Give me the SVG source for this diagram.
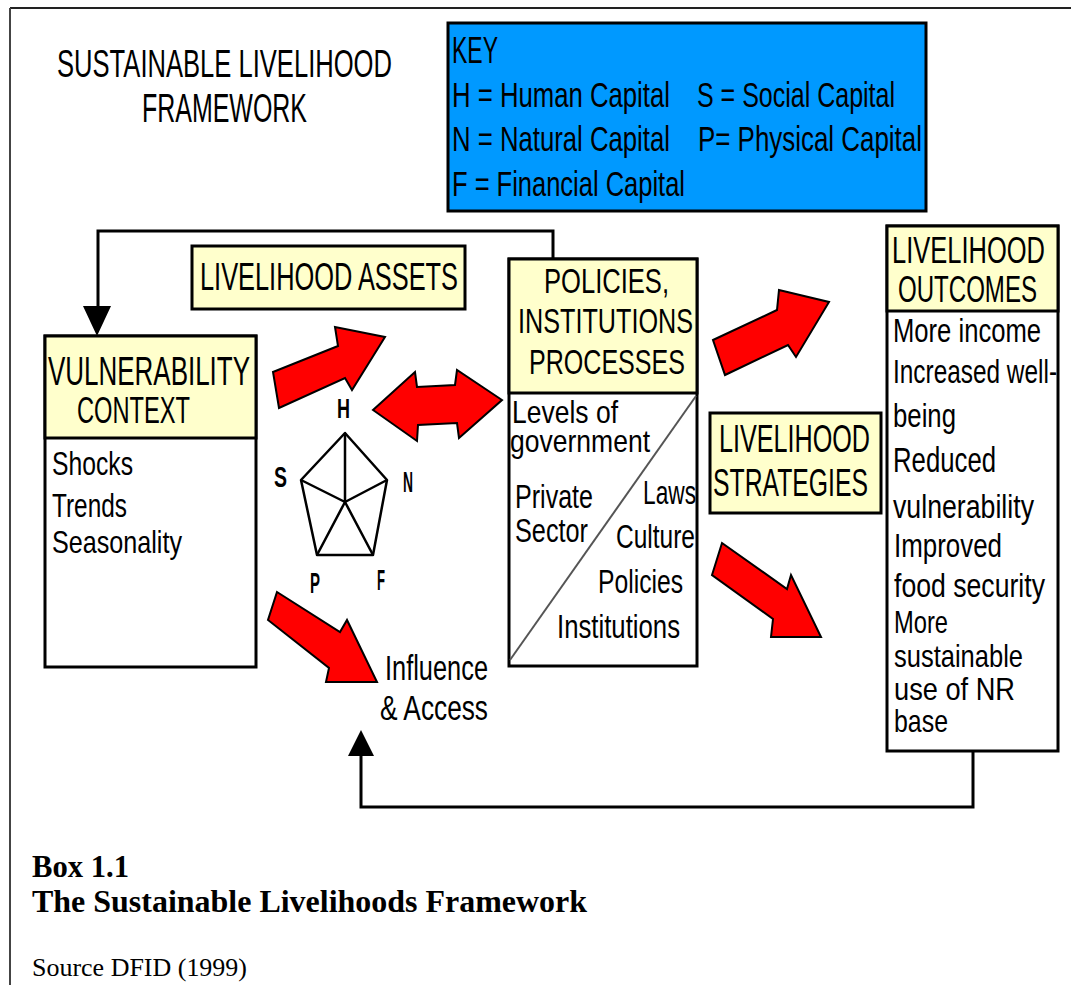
<svg xmlns="http://www.w3.org/2000/svg" width="1071" height="985" viewBox="0 0 1071 985">
<style>
.s{font-family:"Liberation Sans",Arial,sans-serif;fill:#000}
.c{font-family:"Liberation Serif","Times New Roman",serif;fill:#000}
.box{stroke:#000;stroke-width:3}
.hdr{fill:#FFFFCC}
.body{fill:#FFFFFF}
.red{fill:#FF0000;stroke:#000;stroke-width:2;stroke-linejoin:miter}
.ln{fill:none;stroke:#000;stroke-width:3}
.lbl{font-weight:bold}
</style>
<rect x="0" y="0" width="1071" height="985" fill="#FFFFFF"/>
<g id="frame">
<line x1="10" y1="8" x2="1071" y2="8" stroke="#222" stroke-width="2"/>
<line x1="10" y1="8" x2="10" y2="985" stroke="#444" stroke-width="2"/>
</g>
<g id="title">
<text class="s" x="57" y="77" font-size="38" textLength="335" lengthAdjust="spacingAndGlyphs">SUSTAINABLE LIVELIHOOD</text>
<text class="s" x="142" y="122" font-size="40" textLength="165" lengthAdjust="spacingAndGlyphs">FRAMEWORK</text>
</g>
<g id="key">
<rect x="448" y="23" width="478" height="188" fill="#0099FF" class="box"/>
<text class="s" x="452" y="63" font-size="37" textLength="46" lengthAdjust="spacingAndGlyphs">KEY</text>
<text class="s" x="452" y="107" font-size="35" textLength="218" lengthAdjust="spacingAndGlyphs">H = Human Capital</text>
<text class="s" x="697" y="107" font-size="35" textLength="198" lengthAdjust="spacingAndGlyphs">S = Social Capital</text>
<text class="s" x="452" y="151" font-size="35" textLength="218" lengthAdjust="spacingAndGlyphs">N = Natural Capital</text>
<text class="s" x="698" y="151" font-size="35" textLength="224" lengthAdjust="spacingAndGlyphs">P= Physical Capital</text>
<text class="s" x="452" y="196" font-size="35" textLength="233" lengthAdjust="spacingAndGlyphs">F = Financial Capital</text>
</g>
<g id="connectors">
<polyline class="ln" points="553,259 553,231 98,231 98,310"/>
<polygon points="83,306 111,306 97,336" fill="#000"/>
<polyline class="ln" points="973,751 973,807 361,807 361,754"/>
<polygon points="348,756 374,756 361,730" fill="#000"/>
<polygon class="red" points="273,372 338,346 335,327 385,337 352,390 345,378 279,408"/>
<polygon class="red" points="373,410 415,372 417,387 455,385 457,370 502,400 459,438 457,423 418,425 417,441"/>
<polygon class="red" points="713,340 777,310 779,290 829,302 796,357 788,345 725,375"/>
<polygon class="red" points="277,592 340,632 347,620 377,682 326,682 329,668 268,620"/>
<polygon class="red" points="722,543 787,589 791,575 821,637 771,637 773,619 712,575"/>
</g>
<g id="assets">
<rect x="192" y="246" width="273" height="63" class="box hdr"/>
<text class="s" x="200" y="290" font-size="38" textLength="258" lengthAdjust="spacingAndGlyphs">LIVELIHOOD ASSETS</text>
</g>
<g id="vulnerability">
<rect x="45" y="336" width="211" height="331" class="box body"/>
<rect x="45" y="336" width="211" height="102" class="box hdr"/>
<text class="s" x="48" y="385" font-size="40" textLength="202" lengthAdjust="spacingAndGlyphs">VULNERABILITY</text>
<text class="s" x="77" y="423" font-size="36" textLength="113" lengthAdjust="spacingAndGlyphs">CONTEXT</text>
<text class="s" x="52" y="475" font-size="34" textLength="81" lengthAdjust="spacingAndGlyphs">Shocks</text>
<text class="s" x="52" y="517" font-size="34" textLength="75" lengthAdjust="spacingAndGlyphs">Trends</text>
<text class="s" x="52" y="553" font-size="32" textLength="130" lengthAdjust="spacingAndGlyphs">Seasonality</text>
</g>
<g id="pentagon">
<g fill="none" stroke="#000" stroke-width="2.5" stroke-linejoin="round">
<polygon points="345,433 387,480 373,555 317,555 301,480"/>
<path d="M345,502 L345,433 M345,502 L387,480 M345,502 L373,555 M345,502 L317,555 M345,502 L301,480"/>
</g>
<text class="s lbl" x="337" y="418" font-size="28" textLength="13" lengthAdjust="spacingAndGlyphs">H</text>
<text class="s lbl" x="274" y="487" font-size="29" textLength="13" lengthAdjust="spacingAndGlyphs">S</text>
<text class="s lbl" x="403" y="492" font-size="29" textLength="10" lengthAdjust="spacingAndGlyphs">N</text>
<text class="s lbl" x="310" y="593" font-size="30" textLength="10" lengthAdjust="spacingAndGlyphs">P</text>
<text class="s lbl" x="377" y="590" font-size="30" textLength="8" lengthAdjust="spacingAndGlyphs">F</text>
</g>
<g id="policies">
<rect x="509" y="259" width="188" height="407" class="box body"/>
<rect x="509" y="259" width="188" height="134" class="box hdr"/>
<text class="s" x="544" y="293" font-size="35" textLength="125" lengthAdjust="spacingAndGlyphs">POLICIES,</text>
<text class="s" x="518" y="333" font-size="35" textLength="175" lengthAdjust="spacingAndGlyphs">INSTITUTIONS</text>
<text class="s" x="529" y="374" font-size="35" textLength="156" lengthAdjust="spacingAndGlyphs">PROCESSES</text>
<line x1="510" y1="660" x2="696" y2="396" stroke="#555" stroke-width="2"/>
<text class="s" x="512" y="423" font-size="32" textLength="106" lengthAdjust="spacingAndGlyphs">Levels of</text>
<text class="s" x="510" y="452" font-size="32" textLength="140" lengthAdjust="spacingAndGlyphs">government</text>
<text class="s" x="515" y="508" font-size="34" textLength="78" lengthAdjust="spacingAndGlyphs">Private</text>
<text class="s" x="515" y="542" font-size="34" textLength="73" lengthAdjust="spacingAndGlyphs">Sector</text>
<text class="s" x="643" y="504" font-size="34" textLength="53" lengthAdjust="spacingAndGlyphs">Laws</text>
<text class="s" x="616" y="548" font-size="34" textLength="79" lengthAdjust="spacingAndGlyphs">Culture</text>
<text class="s" x="598" y="593" font-size="34" textLength="85" lengthAdjust="spacingAndGlyphs">Policies</text>
<text class="s" x="557" y="638" font-size="34" textLength="123" lengthAdjust="spacingAndGlyphs">Institutions</text>
</g>
<g id="strategies">
<rect x="710" y="413" width="171" height="100" class="box hdr"/>
<text class="s" x="719" y="452" font-size="38" textLength="151" lengthAdjust="spacingAndGlyphs">LIVELIHOOD</text>
<text class="s" x="713" y="496" font-size="38" textLength="155" lengthAdjust="spacingAndGlyphs">STRATEGIES</text>
</g>
<g id="outcomes">
<rect x="887" y="226" width="171" height="525" class="box body"/>
<rect x="887" y="226" width="171" height="85" class="box hdr"/>
<text class="s" x="892" y="263" font-size="37" textLength="153" lengthAdjust="spacingAndGlyphs">LIVELIHOOD</text>
<text class="s" x="898" y="302" font-size="37" textLength="139" lengthAdjust="spacingAndGlyphs">OUTCOMES</text>
<text class="s" x="893" y="342" font-size="33" textLength="148" lengthAdjust="spacingAndGlyphs">More income</text>
<text class="s" x="893" y="383" font-size="34" textLength="164" lengthAdjust="spacingAndGlyphs">Increased well-</text>
<text class="s" x="893" y="427" font-size="34" textLength="63" lengthAdjust="spacingAndGlyphs">being</text>
<text class="s" x="893" y="472" font-size="35" textLength="103" lengthAdjust="spacingAndGlyphs">Reduced</text>
<text class="s" x="893" y="518" font-size="34" textLength="141" lengthAdjust="spacingAndGlyphs">vulnerability</text>
<text class="s" x="894" y="557" font-size="34" textLength="108" lengthAdjust="spacingAndGlyphs">Improved</text>
<text class="s" x="894" y="597" font-size="34" textLength="151" lengthAdjust="spacingAndGlyphs">food security</text>
<text class="s" x="894" y="633" font-size="32" textLength="54" lengthAdjust="spacingAndGlyphs">More</text>
<text class="s" x="894" y="667" font-size="32" textLength="129" lengthAdjust="spacingAndGlyphs">sustainable</text>
<text class="s" x="894" y="700" font-size="32" textLength="121" lengthAdjust="spacingAndGlyphs">use of NR</text>
<text class="s" x="894" y="732" font-size="32" textLength="54" lengthAdjust="spacingAndGlyphs">base</text>
</g>
<g id="influence">
<text class="s" x="385" y="680" font-size="35" textLength="103" lengthAdjust="spacingAndGlyphs">Influence</text>
<text class="s" x="380" y="720" font-size="35" textLength="108" lengthAdjust="spacingAndGlyphs">&amp; Access</text>
</g>
<g id="caption">
<text class="c" x="32" y="877" font-size="32" font-weight="bold" textLength="97" lengthAdjust="spacingAndGlyphs">Box 1.1</text>
<text class="c" x="32" y="912" font-size="32" font-weight="bold" textLength="555" lengthAdjust="spacingAndGlyphs">The Sustainable Livelihoods Framework</text>
<text class="c" x="32" y="976" font-size="25" textLength="215" lengthAdjust="spacingAndGlyphs">Source DFID (1999)</text>
</g>
</svg>
